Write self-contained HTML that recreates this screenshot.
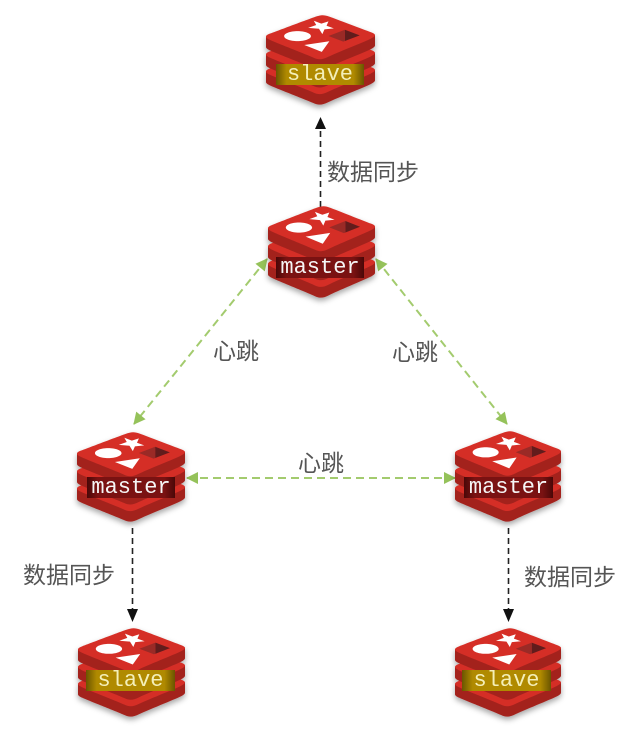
<!DOCTYPE html>
<html><head><meta charset="utf-8"><style>
html,body{margin:0;padding:0;background:#fff;}
svg{display:block;}
.lbl{font-family:"Liberation Sans","Noto Sans CJK SC",sans-serif;font-size:23px;fill:#555;}
.tag{font-family:"Liberation Mono",monospace;font-size:22px;text-anchor:middle;}
</style></head><body>
<svg width="636" height="737" viewBox="0 0 636 737" xmlns="http://www.w3.org/2000/svg">
<defs>
<filter id="sh" x="-20%" y="-20%" width="140%" height="150%">
<feDropShadow dx="0" dy="3" stdDeviation="3" flood-color="#000" flood-opacity="0.35"/>
</filter>
<linearGradient id="gs" x1="0" x2="1" y1="0" y2="0">
<stop offset="0" stop-color="#6a5500"/><stop offset="0.12" stop-color="#b08a00"/><stop offset="0.88" stop-color="#b08a00"/><stop offset="1" stop-color="#6a5500"/>
</linearGradient>
<linearGradient id="gm" x1="0" x2="1" y1="0" y2="0">
<stop offset="0" stop-color="#4a0808"/><stop offset="0.12" stop-color="#7a1212"/><stop offset="0.88" stop-color="#7a1212"/><stop offset="1" stop-color="#4a0808"/>
</linearGradient>
<symbol id="redis" viewBox="0 0 256 220" preserveAspectRatio="none">
<path fill="#A3221F" d="M245.97 168.943c-13.662 7.121-84.434 36.22-99.501 44.075-15.067 7.856-23.437 7.78-35.34 2.09-11.902-5.69-87.216-36.112-100.783-42.597C3.566 169.271 0 166.535 0 163.951v-25.876s98.05-21.345 113.879-27.024c15.828-5.679 21.32-5.884 34.79-.95 13.472 4.936 94.018 19.468 107.331 24.344l-.006 25.51c.002 2.558-3.07 5.364-10.024 8.988"/>
<path fill="#D52F27" d="M245.965 143.22c-13.661 7.118-84.431 36.218-99.498 44.072-15.066 7.857-23.436 7.78-35.338 2.09-11.903-5.686-87.214-36.113-100.78-42.594-13.566-6.485-13.85-10.948-.524-16.166 13.326-5.22 88.224-34.605 104.055-40.284 15.828-5.677 21.319-5.884 34.789-.948 13.471 4.934 83.819 32.935 97.13 37.81 13.316 4.881 13.827 8.9.166 16.02"/>
<path fill="#A3221F" d="M245.97 127.074c-13.662 7.122-84.434 36.22-99.501 44.078-15.067 7.853-23.437 7.777-35.34 2.087-11.903-5.687-87.216-36.112-100.783-42.597C3.566 127.402 0 124.67 0 122.085V96.206s98.05-21.344 113.879-27.023c15.828-5.679 21.32-5.885 34.79-.95C162.142 73.168 242.688 87.697 256 92.574l-.006 25.513c.002 2.557-3.07 5.363-10.024 8.987"/>
<path fill="#D52F27" d="M245.965 101.351c-13.661 7.12-84.431 36.218-99.498 44.075-15.066 7.854-23.436 7.777-35.338 2.087-11.903-5.686-87.214-36.112-100.78-42.594-13.566-6.483-13.85-10.947-.524-16.167C23.151 83.535 98.05 54.148 113.88 48.47c15.828-5.678 21.319-5.884 34.789-.949 13.471 4.934 83.819 32.933 97.13 37.81 13.316 4.88 13.827 8.9.166 16.02"/>
<path fill="#A3221F" d="M245.97 83.653c-13.662 7.12-84.434 36.22-99.501 44.078-15.067 7.854-23.437 7.777-35.34 2.087-11.903-5.687-87.216-36.113-100.783-42.595C3.566 83.98 0 81.247 0 78.665V52.785s98.05-21.344 113.879-27.023c15.828-5.68 21.32-5.885 34.79-.95C162.142 29.749 242.688 44.278 256 49.155l-.006 25.512c.002 2.555-3.07 5.361-10.024 8.986"/>
<path fill="#D52F27" d="M245.965 57.93c-13.661 7.12-84.431 36.22-99.498 44.074-15.066 7.858-23.436 7.78-35.338 2.09C99.227 98.41 23.915 67.982 10.35 61.5-3.217 55.016-3.5 50.55 9.825 45.331 23.151 40.113 98.05 10.73 113.88 5.05c15.828-5.679 21.319-5.883 34.789-.948 13.471 4.935 83.819 32.934 97.13 37.811 13.316 4.876 13.827 8.897.166 16.017"/>
<path fill="#FFF" d="M159.283 32.757l-22.01 2.285-4.927 11.856-7.958-13.23-25.415-2.284 18.964-6.839-5.690-10.498 17.755 6.944 16.738-5.48-4.524 10.855 17.067 6.391M131.032 90.275L89.955 73.238l58.86-9.035-17.783 26.072M74.082 39.347c17.375 0 31.46 5.46 31.46 12.194 0 6.736-14.085 12.195-31.46 12.195s-31.46-5.46-31.46-12.195c0-6.734 14.085-12.194 31.46-12.194"/>
<path fill="#621B1C" d="M185.295 35.998l34.836 13.766-34.806 13.753-.03-27.52"/>
<path fill="#9A2928" d="M146.755 51.243l38.54-15.245.03 27.519-3.779 1.478-34.791-13.752"/>
</symbol>
<marker id="ag" viewBox="0 0 12 12" refX="11" refY="6" markerWidth="13" markerHeight="12" markerUnits="userSpaceOnUse" orient="auto-start-reverse">
<path d="M0,0 L12,6 L0,12 z" fill="#95c25a"/>
</marker>
</defs>

<!-- black sync arrows -->
<g stroke="#222" stroke-width="1.6" stroke-dasharray="6,4" fill="none">
<line x1="320.5" y1="207" x2="320.5" y2="128"/>
<line x1="132.5" y1="528" x2="132.5" y2="610"/>
<line x1="508.5" y1="528" x2="508.5" y2="610"/>
</g>
<g fill="#111">
<polygon points="320.5,117 315,129 326,129"/>
<polygon points="132.5,622 127,609 138,609"/>
<polygon points="508.5,622 503,609 514,609"/>
</g>

<!-- green heartbeat arrows -->
<g stroke="#a3cb6e" stroke-width="2" stroke-dasharray="8,5" fill="none">
<line x1="187" y1="478" x2="455" y2="478" marker-start="url(#ag)" marker-end="url(#ag)"/>
<line x1="267" y1="259" x2="134" y2="424" marker-start="url(#ag)" marker-end="url(#ag)"/>
<line x1="376" y1="259" x2="507" y2="424" marker-start="url(#ag)" marker-end="url(#ag)"/>
</g>

<!-- labels -->
<text class="lbl" x="327" y="180">数据同步</text>
<text class="lbl" x="213" y="359">心跳</text>
<text class="lbl" x="392" y="360">心跳</text>
<text class="lbl" x="298" y="471">心跳</text>
<text class="lbl" x="23" y="583">数据同步</text>
<text class="lbl" x="524" y="585">数据同步</text>

<!-- logos -->
<g filter="url(#sh)">
<use href="#redis" x="266" y="15" width="109" height="90"/>
<use href="#redis" x="268" y="206" width="107" height="92"/>
<use href="#redis" x="77" y="432" width="108" height="90"/>
<use href="#redis" x="455" y="431" width="106" height="91"/>
<use href="#redis" x="78" y="628" width="107" height="89"/>
<use href="#redis" x="455" y="628" width="106" height="89"/>
</g>

<!-- tags -->
<rect x="276" y="64" width="88" height="21" fill="url(#gs)"/>
<text class="tag" x="320" y="80" fill="#f4efb8">slave</text>
<rect x="276" y="257" width="88" height="21" fill="url(#gm)"/>
<text class="tag" x="320" y="273" fill="#f5f5f5">master</text>
<rect x="87" y="477" width="88" height="21" fill="url(#gm)"/>
<text class="tag" x="131" y="493" fill="#f5f5f5">master</text>
<rect x="464" y="477" width="89" height="21" fill="url(#gm)"/>
<text class="tag" x="508.5" y="493" fill="#f5f5f5">master</text>
<rect x="86" y="670" width="89" height="21" fill="url(#gs)"/>
<text class="tag" x="130.5" y="686" fill="#f4efb8">slave</text>
<rect x="462" y="670" width="89" height="21" fill="url(#gs)"/>
<text class="tag" x="506.5" y="686" fill="#f4efb8">slave</text>
</svg>
</body></html>
